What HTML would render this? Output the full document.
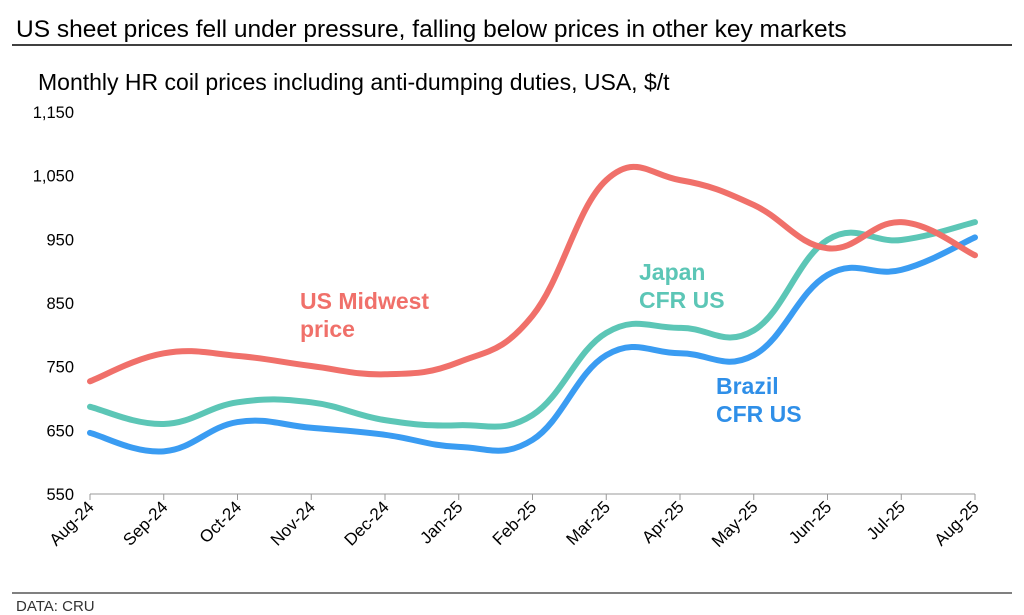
<!DOCTYPE html>
<html><head><meta charset="utf-8"><style>
body{margin:0;background:#fff;font-family:"Liberation Sans",Arial,sans-serif;}
svg{display:block}
</style></head><body>
<svg width="1024" height="615" viewBox="0 0 1024 615">
<text x="16" y="37" font-size="24.5" fill="#000">US sheet prices fell under pressure, falling below prices in other key markets</text>
<line x1="12" y1="45" x2="1012" y2="45" stroke="#000" stroke-width="1.5"/>
<text x="38" y="90" font-size="23" fill="#000">Monthly HR coil prices including anti-dumping duties, USA, $/t</text>
<g id="yaxis"></g>
<g id="xaxis"></g>
<g id="series"></g>
<text x="300" y="309" font-size="23" font-weight="bold" fill="#f0706a">US Midwest</text>
<text x="300" y="337" font-size="23" font-weight="bold" fill="#f0706a">price</text>
<text x="639" y="280" font-size="23" font-weight="bold" fill="#5cc6b6">Japan</text>
<text x="639" y="308" font-size="23" font-weight="bold" fill="#5cc6b6">CFR US</text>
<text x="716" y="394" font-size="23" font-weight="bold" fill="#2f8fe8">Brazil</text>
<text x="716" y="422" font-size="23" font-weight="bold" fill="#2f8fe8">CFR US</text>
<line x1="12" y1="593" x2="1012" y2="593" stroke="#000" stroke-width="1"/>
<text x="16" y="611" font-size="15" fill="#333">DATA: CRU</text>
</svg>
<script>
const categories=["Aug-24","Sep-24","Oct-24","Nov-24","Dec-24","Jan-25","Feb-25","Mar-25","Apr-25","May-25","Jun-25","Jul-25","Aug-25"];
const usMidwest=[727,771,767,751,738,757,830,1043,1043,1004,936,977,925];
const japan=[687,660,694,694,666,658,674,803,811,807,949,949,977];
const brazil=[646,617,663,654,643,624,635,768,771,768,894,902,953];
const yTicks=[550,650,750,850,950,1050,1150];
const yTickLabels=["550","650","750","850","950","1,050","1,150"];
const NS="http://www.w3.org/2000/svg";
const x0=90,x1=975,yBase=494,yTop=112;
function xs(i){return x0+i*(x1-x0)/(categories.length-1);}
function ys(v){return yBase-(v-550)/(1150-550)*(yBase-yTop);}
function mk(t,a,p){const e=document.createElementNS(NS,t);for(const k in a)e.setAttribute(k,a[k]);p.appendChild(e);return e;}
const ya=document.getElementById('yaxis');
yTicks.forEach((v,i)=>{const t=mk('text',{x:74,y:ys(v)+6,'text-anchor':'end','font-size':16.5,fill:'#000'},ya);


t.textContent=yTickLabels[i];});
const xa=document.getElementById('xaxis');
const al=mk('line',{x1:x0,y1:yBase,x2:x1,y2:yBase,stroke:'#999','stroke-width':1},xa);


categories.forEach((c,i)=>{const x=xs(i);
const tk=mk('line',{x1:x,y1:yBase,x2:x,y2:yBase+6,stroke:'#999'},xa);


const t=mk('text',{x:x+5,y:yBase+14,'text-anchor':'end','font-size':17,fill:'#000',transform:`rotate(-45 ${x+5} ${yBase+14})`},xa);


t.textContent=c;});
function path(vals){const p=vals.map((v,i)=>[xs(i),ys(v)]);let d=`M${p[0][0]},${p[0][1]}`;
for(let i=0;i<p.length-1;i++){const a=p[Math.max(0,i-1)],b=p[i],c=p[i+1],e=p[Math.min(p.length-1,i+2)];
const t=0.2;d+=` C${b[0]+(c[0]-a[0])*t},${b[1]+(c[1]-a[1])*t} ${c[0]-(e[0]-b[0])*t},${c[1]-(e[1]-b[1])*t} ${c[0]},${c[1]}`;}return d;}
const sg=document.getElementById('series');
[[brazil,'#3a9cf2','brazil-line'],[japan,'#5cc6b6','japan-line'],[usMidwest,'#f0706a','us-midwest-line']].forEach(([v,c,n])=>{
const p=mk('path',{d:path(v),fill:'none',stroke:c,'stroke-width':6,'stroke-linejoin':'round','stroke-linecap':'round'},sg);

});
</script>
</body></html>
